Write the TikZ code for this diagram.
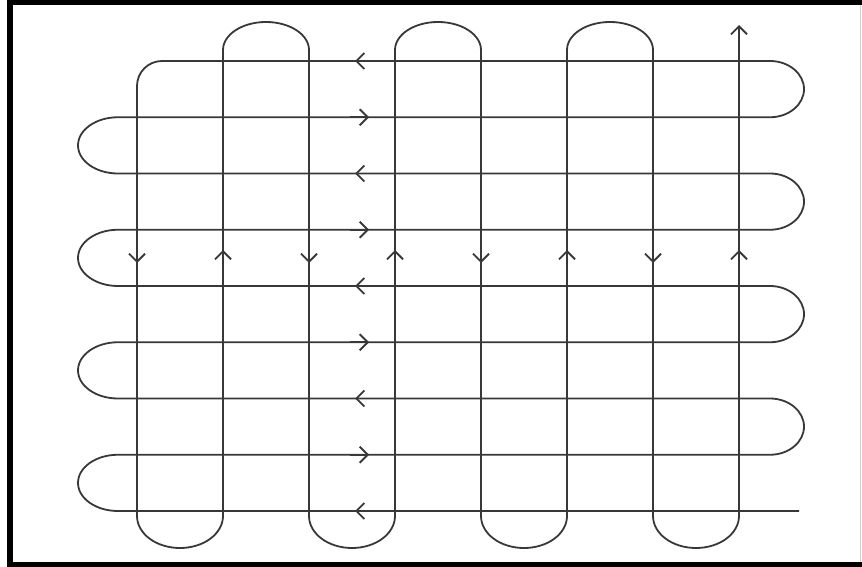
\documentclass[tikz,border=0pt]{standalone}
\usepackage{tikz}
\usetikzlibrary{arrows.meta}

\begin{document}
\begin{tikzpicture}[
  x=1pt, y=-1pt,
  >={Straight Barb[length=8pt,width=16pt]},
  frame/.style={line width=5.5pt, black},
  flow/.style={line width=1.8pt, black!78, line join=round},
  mid/.style={->, line width=1.8pt, black!78}
]
\useasboundingbox (0,0) rectangle (862,567);

% frame
\draw[frame] (862,2.5) -- (10,2.5) -- (10,564.5) -- (862,564.5);
\draw[gray!35, line width=1pt] (860,5) -- (860,562);

% one path: horizontal serpentine, then vertical serpentine
\draw[flow, ->] (799,511) -- (118,511)
  arc[start angle=90, end angle=270, x radius=40, y radius=28.125] -- (770,454.75)
  arc[start angle=90, end angle=-90, x radius=34, y radius=28.125] -- (118,398.5)
  arc[start angle=90, end angle=270, x radius=40, y radius=28.125] -- (770,342.25)
  arc[start angle=90, end angle=-90, x radius=34, y radius=28.125] -- (118,286)
  arc[start angle=90, end angle=270, x radius=40, y radius=28.125] -- (770,229.75)
  arc[start angle=90, end angle=-90, x radius=34, y radius=28.125] -- (118,173.5)
  arc[start angle=90, end angle=270, x radius=40, y radius=28.125] -- (770,117.25)
  arc[start angle=90, end angle=-90, x radius=34, y radius=28.125]
  [rounded corners=25pt] -- (137,61) -- (137,300) [sharp corners] -- (137,516)
  arc[start angle=180, end angle=0, x radius=43, y radius=32] -- (223,50)
  arc[start angle=180, end angle=360, x radius=43, y radius=28] -- (309,516)
  arc[start angle=180, end angle=0, x radius=43, y radius=32] -- (395,50)
  arc[start angle=180, end angle=360, x radius=43, y radius=28] -- (481,516)
  arc[start angle=180, end angle=0, x radius=43, y radius=32] -- (567,50)
  arc[start angle=180, end angle=360, x radius=43, y radius=28] -- (653,516)
  arc[start angle=180, end angle=0, x radius=43, y radius=32] -- (739,25);

% direction marks
\foreach \y in {117.25, 229.75, 342.25, 454.75}
  \draw[mid] (350,\y) -- (369,\y);
\foreach \y in {61, 173.5, 286, 398.5, 511}
  \draw[mid] (374,\y) -- (355,\y);
\foreach \x in {137, 309, 481, 653}
  \draw[mid] (\x,244) -- (\x,263);
\foreach \x in {223, 395, 567, 739}
  \draw[mid] (\x,270) -- (\x,250);
\end{tikzpicture}
\end{document}
